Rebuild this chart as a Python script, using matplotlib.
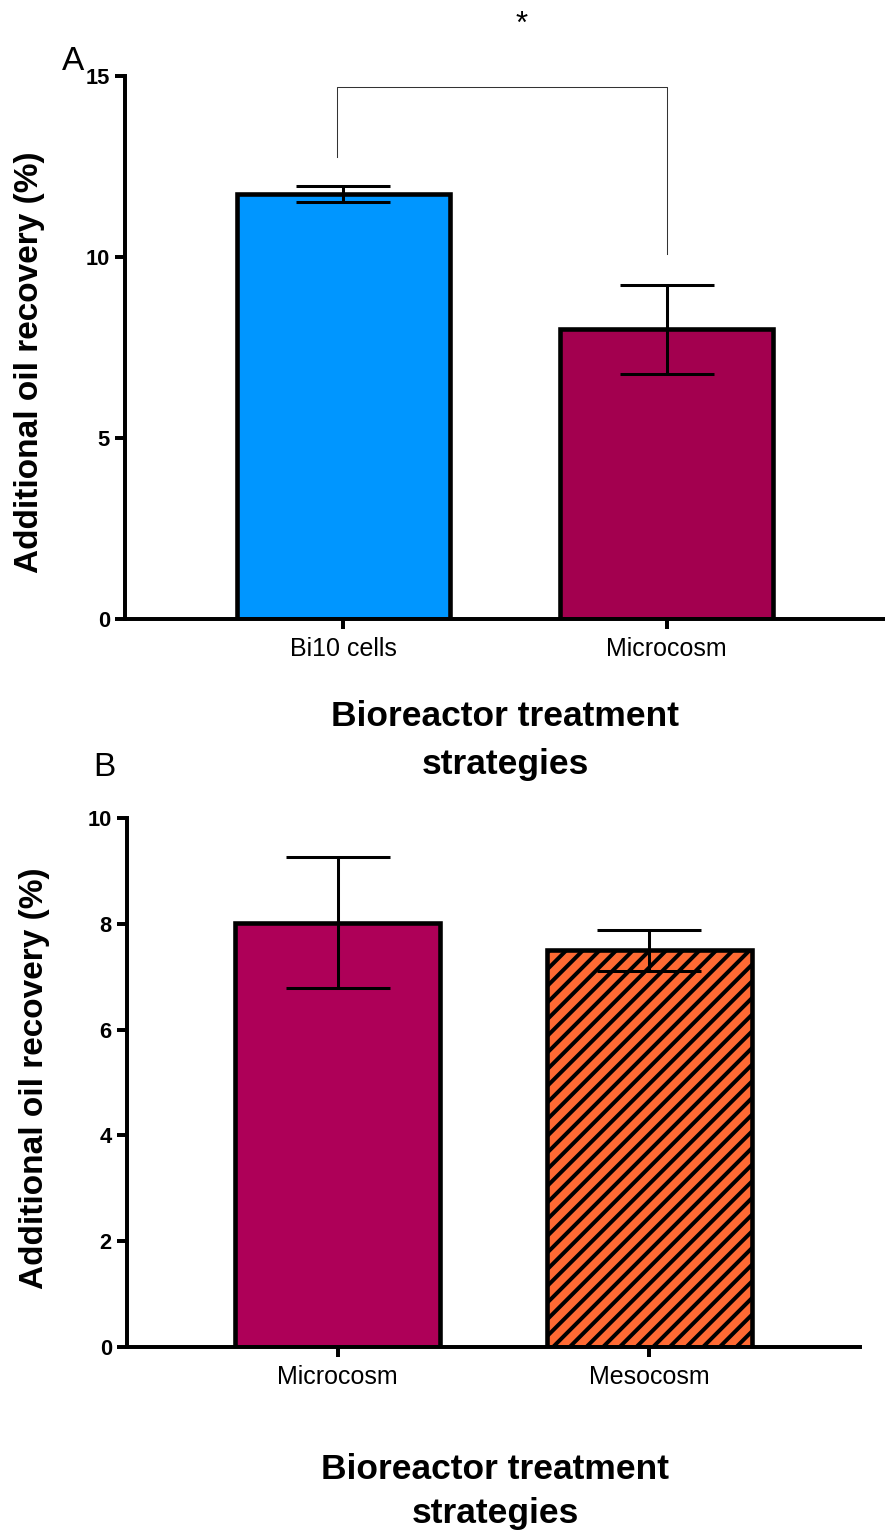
import matplotlib
matplotlib.use("Agg")
import matplotlib.pyplot as plt

plt.rcParams['font.family'] = ['Liberation Sans', 'DejaVu Sans']
plt.rcParams['hatch.linewidth'] = 1.9

# panel A
cats_a = ["Bi10 cells", "Microcosm"]
vals_a = [11.75, 8.0]
errs_a = [0.22, 1.24]
colors_a = ["#0096FF", "#A3004F"]

# panel B
cats_b = ["Microcosm", "Mesocosm"]
vals_b = [8.02, 7.5]
errs_b = [1.24, 0.39]
colors_b = ["#AE0058", "#FF6A33"]
hatches_b = ["", "///"]

ylabel = "Additional oil recovery (%)"
xlabel = "Bioreactor treatment\nstrategies"

fig = plt.figure(figsize=(5.9, 10.22), dpi=150)
ax_a = fig.add_axes([125/885, 1-619/1533, 760/885, 543/1533])
ax_b = fig.add_axes([127/885, 1-1347/1533, 733/885, 529/1533])


def style(ax, cats, ymax, yticks, ly):
    for s in ['top', 'right']:
        ax.spines[s].set_visible(False)
    for s in ['left', 'bottom']:
        ax.spines[s].set_linewidth(1.9)
    ax.set_xlim(-0.675, 1.675)
    ax.set_ylim(0, ymax)
    ax.set_yticks(yticks)
    ax.set_xticks(range(len(cats)))
    ax.set_xticklabels(cats, fontsize=12)
    ax.tick_params(axis='both', length=4.8, width=1.9)
    ax.tick_params(axis='y', pad=2.5, labelsize=10.5)
    ax.tick_params(axis='x', pad=4)
    for t in ax.get_yticklabels():
        t.set_fontweight('bold')
    ax.set_ylabel(ylabel, fontsize=16, fontweight='bold')
    ax.yaxis.set_label_coords(-0.105, ly)


x = range(len(cats_a))
ax_a.bar(x, vals_a, width=0.66, color=colors_a, edgecolor='black', linewidth=2.2, zorder=2)
ax_a.errorbar(x, vals_a, yerr=errs_a, fmt='none', ecolor='black', elinewidth=1.45,
              capsize=22.6, capthick=1.45, zorder=3)
style(ax_a, cats_a, 15, [0, 5, 10, 15], 0.473)
ax_a.set_xlabel(xlabel, fontsize=17, fontweight='bold', linespacing=1.55, va='top')
ax_a.xaxis.set_label_coords(0.5, -0.15)

# significance bracket
ax_a.plot([-0.02, -0.02, 1.0, 1.0], [12.76, 14.7, 14.7, 10.08], color='#333333', lw=0.5,
          clip_on=False, zorder=1)
ax_a.text(0.55, 16.4, "*", ha='center', va='center', fontsize=15)

xb = range(len(cats_b))
ax_b.bar(xb, vals_b, width=0.657, color=colors_b, edgecolor='black', linewidth=2.2,
         hatch=hatches_b, zorder=2)
ax_b.errorbar(xb, vals_b, yerr=errs_b, fmt='none', ecolor='black', elinewidth=1.45,
              capsize=25, capthick=1.45, zorder=3)
style(ax_b, cats_b, 10, [0, 2, 4, 6, 8, 10], 0.508)
ax_b.set_xlabel(xlabel, fontsize=17, fontweight='bold', linespacing=1.45, va='top')
ax_b.xaxis.set_label_coords(0.502, -0.2)

fig.text(73/885, 1-62/1533, "A", fontsize=16, ha='center', va='center')
fig.text(104/885, 1-768/1533, "B", fontsize=16, ha='center', va='center')

fig.savefig("out.png", dpi=150)
